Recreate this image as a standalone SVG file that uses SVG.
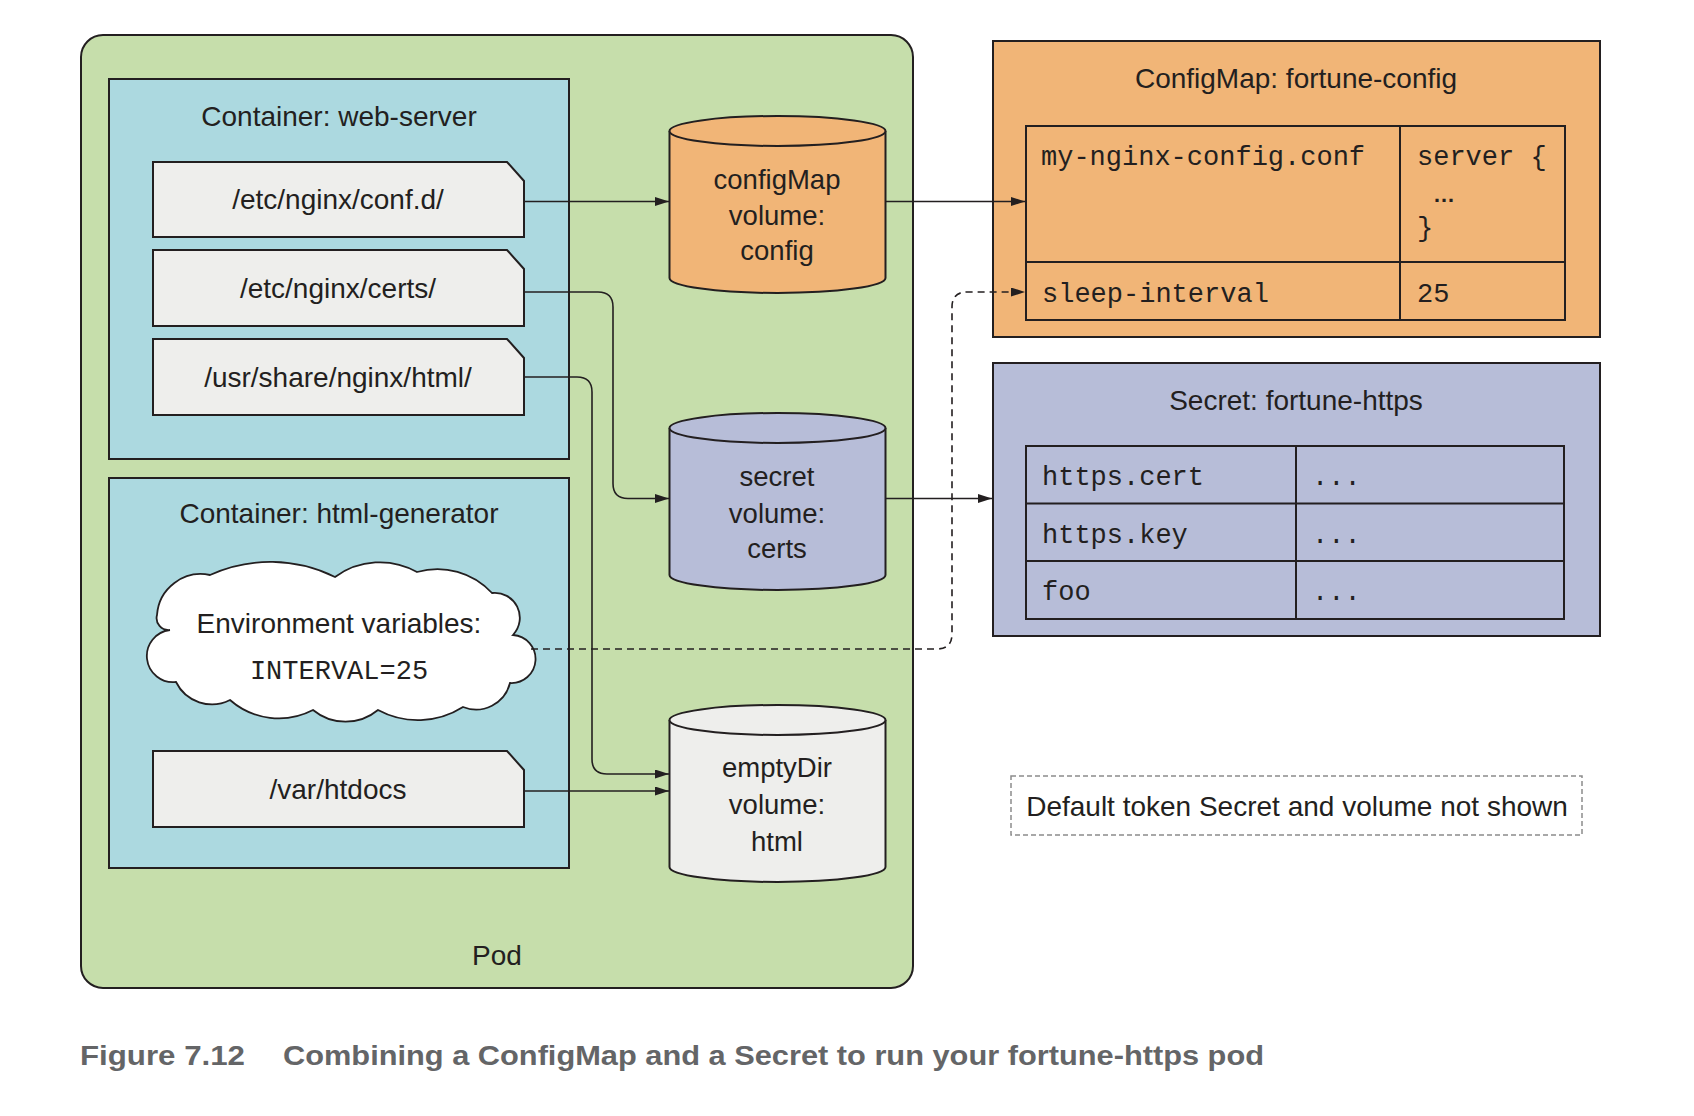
<svg xmlns="http://www.w3.org/2000/svg" width="1694" height="1116" viewBox="0 0 1694 1116">
<style>
.lbl{font-family:"Liberation Sans",Arial,sans-serif;font-size:28px;fill:#231f20;text-anchor:middle}
.cyl{font-family:"Liberation Sans",Arial,sans-serif;font-size:27.5px;fill:#231f20;text-anchor:middle}
.mono{font-family:"Liberation Mono","Courier New",monospace;font-size:27px;fill:#231f20}
.st{stroke:#231f20;stroke-width:2}
.path{fill:#eeeeec;stroke:#231f20;stroke-width:2}
.cont{fill:#acd9e0;stroke:#231f20;stroke-width:2}
.conn{fill:none;stroke:#231f20;stroke-width:1.6}
.cap{font-family:"Liberation Sans Narrow","Liberation Sans",Arial,sans-serif;font-size:28px;font-weight:bold;fill:#646567}
</style>
<defs>
<marker id="ah" markerUnits="userSpaceOnUse" markerWidth="15" markerHeight="10" refX="14" refY="4.5" orient="auto">
<path d="M0,0 L14,4.5 L0,9 z" fill="#231f20"/>
</marker>
</defs>
<rect width="1694" height="1116" fill="#ffffff"/>

<g id="pod">
<rect x="81" y="35" width="832" height="953" rx="22" ry="22" fill="#c6deab" class="st"/>
<text class="lbl" x="497" y="965">Pod</text>
</g>

<g id="web-server">
<rect x="109" y="79" width="460" height="380" class="cont"/>
<text class="lbl" x="339" y="126">Container: web-server</text>
</g>
<g id="path-confd">
<polygon points="153,162 507,162 524,181 524,237 153,237" class="path"/>
<text class="lbl" x="338" y="209">/etc/nginx/conf.d/</text>
</g>
<g id="path-certs">
<polygon points="153,250 507,250 524,269 524,326 153,326" class="path"/>
<text class="lbl" x="338" y="298">/etc/nginx/certs/</text>
</g>
<g id="path-html">
<polygon points="153,339 507,339 524,358 524,415 153,415" class="path"/>
<text class="lbl" x="338" y="387">/usr/share/nginx/html/</text>
</g>

<g id="html-generator">
<rect x="109" y="478" width="460" height="390" class="cont"/>
<text class="lbl" x="339" y="523">Container: html-generator</text>
</g>
<g id="env-cloud">
<path d="M157,615 A44,44 0 0 1 210,575 A146,146 0 0 1 335,577 A76,76 0 0 1 417,572 A74,74 0 0 1 492,593 A25,25 0 0 1 513,635 A24,24 0 0 1 510,683 A35,35 0 0 1 463,707 A84,84 0 0 1 378,710 A51,51 0 0 1 313,710 A74,74 0 0 1 230,700 A40,40 0 0 1 176,682 A26,26 0 0 1 170,630 A12,12 0 0 1 157,615 Z" fill="#ffffff" stroke="#231f20" stroke-width="1.8"/>
<text class="lbl" x="339" y="633">Environment variables:</text>
<text class="mono" x="339" y="679" text-anchor="middle">INTERVAL=25</text>
</g>
<g id="path-htdocs">
<polygon points="153,751 507,751 524,770 524,827 153,827" class="path"/>
<text class="lbl" x="338" y="799">/var/htdocs</text>
</g>

<g id="vol-config">
<path d="M669.5,131 V278 A108,15 0 0 0 885.5,278 V131" fill="#f1b577" class="st"/>
<ellipse cx="777.5" cy="131" rx="108" ry="15" fill="#f1b577" class="st"/>
<text class="cyl" x="777" y="189">configMap</text>
<text class="cyl" x="777" y="225">volume:</text>
<text class="cyl" x="777" y="260">config</text>
</g>
<g id="vol-certs">
<path d="M669.5,428 V575 A108,15 0 0 0 885.5,575 V428" fill="#b7bdd8" class="st"/>
<ellipse cx="777.5" cy="428" rx="108" ry="15" fill="#b7bdd8" class="st"/>
<text class="cyl" x="777" y="486">secret</text>
<text class="cyl" x="777" y="523">volume:</text>
<text class="cyl" x="777" y="558">certs</text>
</g>
<g id="vol-html">
<path d="M669.5,720 V867 A108,15 0 0 0 885.5,867 V720" fill="#eeeeec" class="st"/>
<ellipse cx="777.5" cy="720" rx="108" ry="15" fill="#eeeeec" class="st"/>
<text class="cyl" x="777" y="777">emptyDir</text>
<text class="cyl" x="777" y="814">volume:</text>
<text class="cyl" x="777" y="851">html</text>
</g>

<g id="configmap">
<rect x="993" y="41" width="607" height="296" fill="#f1b577" class="st"/>
<text class="lbl" x="1296" y="88">ConfigMap: fortune-config</text>
<rect x="1026" y="126" width="539" height="194" fill="none" class="st"/>
<line x1="1026" y1="262" x2="1565" y2="262" class="st"/>
<line x1="1400" y1="126" x2="1400" y2="320" class="st"/>
<text class="mono" x="1041" y="165">my-nginx-config.conf</text>
<text class="mono" x="1417" y="165">server {</text>
<text x="1433" y="202" font-family="Liberation Sans,Arial,sans-serif" font-size="22" font-weight="bold" fill="#231f20">…</text>
<text class="mono" x="1417" y="236">}</text>
<text class="mono" x="1042" y="302">sleep-interval</text>
<text class="mono" x="1417" y="302">25</text>
</g>

<g id="secret">
<rect x="993" y="363" width="607" height="273" fill="#b7bdd8" class="st"/>
<text class="lbl" x="1296" y="410">Secret: fortune-https</text>
<rect x="1026" y="446" width="538" height="173" fill="none" class="st"/>
<line x1="1026" y1="503.5" x2="1564" y2="503.5" class="st"/>
<line x1="1026" y1="561" x2="1564" y2="561" class="st"/>
<line x1="1296" y1="446" x2="1296" y2="619" class="st"/>
<text class="mono" x="1042" y="485">https.cert</text>
<text class="mono" x="1312" y="485">...</text>
<text class="mono" x="1042" y="543">https.key</text>
<text class="mono" x="1312" y="543">...</text>
<text class="mono" x="1042" y="600">foo</text>
<text class="mono" x="1312" y="600">...</text>
</g>

<g id="note">
<rect x="1011" y="776" width="571" height="59" fill="none" stroke="#8c8c8c" stroke-width="1.5" stroke-dasharray="5 3"/>
<text class="lbl" x="1297" y="816">Default token Secret and volume not shown</text>
</g>

<g id="connectors">
<path class="conn" d="M524,201.5 H669" marker-end="url(#ah)"/>
<path class="conn" d="M524,292 H598 Q613,292 613,307 V483.5 Q613,498.5 628,498.5 H669" marker-end="url(#ah)"/>
<path class="conn" d="M524,377 H577 Q592,377 592,392 V759 Q592,774 607,774 H669" marker-end="url(#ah)"/>
<path class="conn" d="M524,791 H669" marker-end="url(#ah)"/>
<path class="conn" d="M886,201.5 H1025" marker-end="url(#ah)"/>
<path class="conn" d="M886,498.5 H992" marker-end="url(#ah)"/>
<path class="conn" d="M531,649 H937 Q952,649 952,634 V307 Q952,292 967,292 H1025" stroke-dasharray="7 5" marker-end="url(#ah)"/>
</g>

<g id="caption">
<text class="cap" x="80" y="1065" textLength="165" lengthAdjust="spacingAndGlyphs">Figure 7.12</text>
<text class="cap" x="283" y="1065" textLength="981" lengthAdjust="spacingAndGlyphs">Combining a ConfigMap and a Secret to run your fortune-https pod</text>
</g>
</svg>
